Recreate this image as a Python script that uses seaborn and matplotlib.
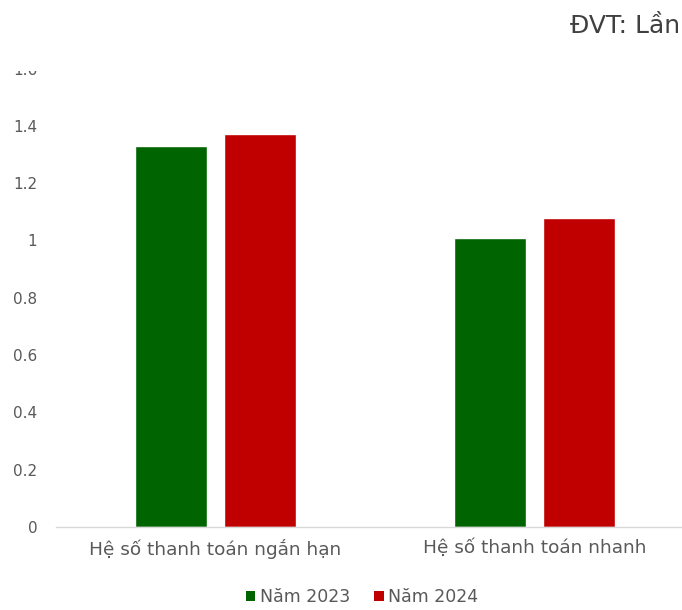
import matplotlib
matplotlib.use("Agg")
import matplotlib.pyplot as plt
import matplotlib.patches as mpatches
import seaborn as sns
import pandas as pd

categories = ["Hệ số thanh toán ngắn hạn", "Hệ số thanh toán nhanh"]
years = ["Năm 2023", "Năm 2024"]
values_2023 = [1.33, 1.01]
values_2024 = [1.37, 1.08]
yticks = [0, 0.2, 0.4, 0.6, 0.8, 1, 1.2, 1.4, 1.6]
ytick_labels = ["0", "0.2", "0.4", "0.6", "0.8", "1", "1.2", "1.4", "1.6"]
colors = ["#006400", "#C00000"]

df = pd.DataFrame({
    "cat": categories * 2,
    "year": [years[0]] * 2 + [years[1]] * 2,
    "val": values_2023 + values_2024,
})

sns.set_theme(style="white")
plt.rcParams["font.family"] = ["DejaVu Sans"]

fig = plt.figure(figsize=(6.82, 6.10), dpi=100)
W, H = 682, 610
left, right, top, bottom = 56, 694, 68.6, 527
ax = fig.add_axes([left / W, 1 - bottom / H, (right - left) / W, (bottom - top) / H])

sns.barplot(data=df, x="cat", y="val", hue="year", palette=colors,
            width=0.564, gap=0.2, ax=ax, legend=False, saturation=1)

ax.set_ylim(0, 1.6)
ax.set_xlim(-0.5, 1.5)
ax.set_yticks(yticks)
ax.set_yticklabels(ytick_labels)
ax.set_xlabel("")
ax.set_ylabel("")
for s in ["top", "right", "left"]:
    ax.spines[s].set_visible(False)
ax.spines["bottom"].set_color("#d9d9d9")
ax.spines["bottom"].set_linewidth(1)
ax.tick_params(axis="y", length=0, labelsize=11, labelcolor="#595959", pad=13.5)
ax.tick_params(axis="x", length=0, labelsize=13.3, labelcolor="#595959", pad=8.5)

# white band covering the cropped top of the chart
fig.patches.append(mpatches.Rectangle((0, 1 - 71 / H), 0.3, 71 / H,
                                      transform=fig.transFigure, facecolor="white",
                                      edgecolor="none", zorder=10))

fig.text(680 / W, 1 - 26 / H, "ĐVT: Lần", ha="right", va="center",
         fontsize=18, color="#404040", zorder=11)

handles = [mpatches.Patch(facecolor=c, edgecolor="none", label=y) for c, y in zip(colors, years)]
fig.legend(handles=handles, loc="center", bbox_to_anchor=(362 / W, 1 - 597 / H), ncol=2,
           frameon=False, fontsize=12.5, handlelength=0.55, handleheight=0.55,
           handletextpad=0.25, columnspacing=1.4, labelcolor="#595959")

fig.savefig("out.png", dpi=100)
